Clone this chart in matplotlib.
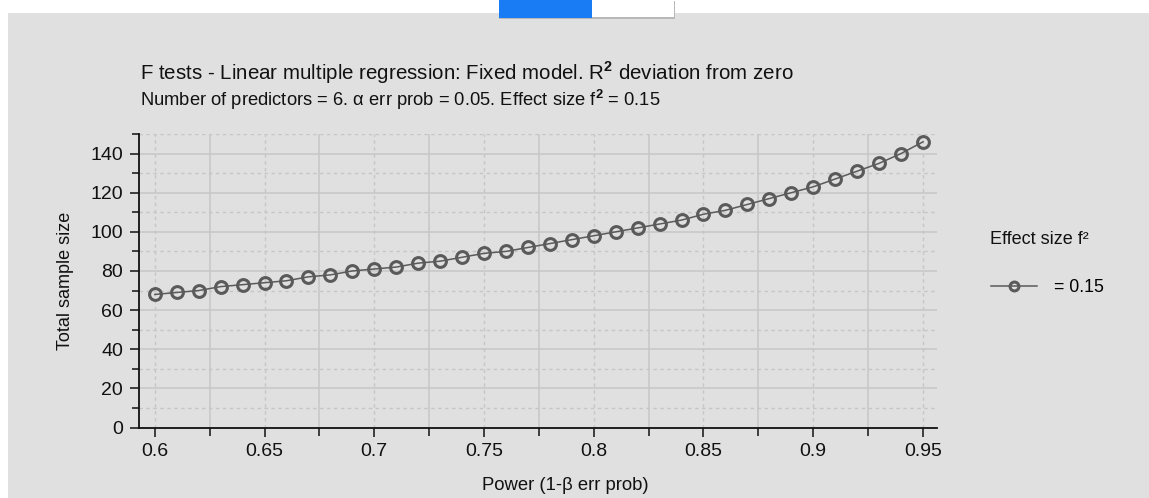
import matplotlib
matplotlib.use("Agg")
import matplotlib.pyplot as plt
from matplotlib.patches import Rectangle
from matplotlib.ticker import MultipleLocator

power = [0.60, 0.61, 0.62, 0.63, 0.64, 0.65, 0.66, 0.67, 0.68, 0.69,
         0.70, 0.71, 0.72, 0.73, 0.74, 0.75, 0.76, 0.77, 0.78, 0.79,
         0.80, 0.81, 0.82, 0.83, 0.84, 0.85, 0.86, 0.87, 0.88, 0.89,
         0.90, 0.91, 0.92, 0.93, 0.94, 0.95]
sample_size = [68, 69, 70, 72, 73, 74, 75, 77, 78, 80,
               81, 82, 84, 85, 87, 89, 90, 92, 94, 96,
               98, 100, 102, 104, 106, 109, 111, 114, 117, 120,
               123, 127, 131, 135, 140, 146]
series_label = "= 0.15"
legend_title = "Effect size f²"
title = "F tests - Linear multiple regression: Fixed model. R$^{\\mathbf{2}}$ deviation from zero"
subtitle = "Number of predictors = 6. α err prob = 0.05. Effect size f$^{\\mathbf{2}}$ = 0.15"

W, H = 1149, 498
BG = "#e0e0e0"
plt.rcParams['font.family'] = ['Liberation Sans', 'DejaVu Sans']
plt.rcParams['mathtext.fontset'] = 'custom'
plt.rcParams['mathtext.rm'] = 'Liberation Sans'
plt.rcParams['mathtext.bf'] = 'Liberation Sans:bold'

fig = plt.figure(figsize=(W / 100, H / 100), dpi=100, facecolor="white")


def fbox(x, y, w, h, **kw):
    # rectangle in pixel coords measured from top-left
    return Rectangle((x / W, 1 - (y + h) / H), w / W, h / H,
                     transform=fig.transFigure, **kw)


fig.add_artist(fbox(8, 13, W - 8, H - 13, facecolor=BG, edgecolor="none", zorder=0))
# window tab at the top
fig.add_artist(fbox(499, 1, 176, 18, facecolor="#b8b8b8", edgecolor="none", zorder=1))
fig.add_artist(fbox(499, 0, 93, 18, facecolor="#1a7cf5", edgecolor="none", zorder=2))
fig.add_artist(fbox(592, 0, 82, 17, facecolor="white", edgecolor="none", zorder=2))

ax = fig.add_axes([139 / W, (H - 427.5) / H, (937 - 139) / W, (427.5 - 134) / H])
ax.set_facecolor(BG)

ax.plot(power, sample_size, color="#5a5a5a", lw=1.1, marker="o", ms=8.5,
        mfc="none", mec="#5a5a5a", mew=2.2, zorder=3, label=series_label)

ax.set_xlim(0.5928, 0.9564)
ax.set_ylim(0, 150)
ax.xaxis.set_minor_locator(MultipleLocator(0.025))
ax.yaxis.set_major_locator(MultipleLocator(20))
ax.yaxis.set_minor_locator(MultipleLocator(10))
ax.set_xticks([0.6, 0.65, 0.7, 0.75, 0.8, 0.85, 0.9, 0.95])
ax.set_xticklabels(["0.6", "0.65", "0.7", "0.75", "0.8", "0.85", "0.9", "0.95"])

ax.grid(False)
ax.yaxis.grid(True, which="major", color="#c6c6c6", lw=1.1, ls="-")
ax.yaxis.grid(True, which="minor", color="#c6c6c6", lw=1.0, ls=(0, (2.5, 2.5)))
ax.xaxis.grid(True, which="minor", color="#c6c6c6", lw=1.1, ls="-")
ax.xaxis.grid(True, which="major", color="#c6c6c6", lw=1.0, ls=(0, (2.5, 2.5)))
ax.set_axisbelow(True)

for s in ["top", "right"]:
    ax.spines[s].set_visible(False)
for s in ["left", "bottom"]:
    ax.spines[s].set_linewidth(1.3)
    ax.spines[s].set_color("#111111")

ax.tick_params(which="major", direction="out", length=6.5, width=1.1,
               labelsize=14, colors="#111111", pad=5)
ax.tick_params(which="minor", direction="out", length=5, width=1.1, colors="#111111")
ax.tick_params(axis="x", which="minor", length=6)

ax.set_ylabel("Total sample size", fontsize=13, color="#111111", labelpad=12)
fig.text(565 / W, 1 - 485 / H, "Power (1-β err prob)", fontsize=13.3,
         ha="center", va="center", color="#111111")

fig.text(140 / W, 1 - 73 / H, title, fontsize=14.8, va="center", ha="left", color="#111111")
fig.text(140 / W, 1 - 100 / H, subtitle, fontsize=13.2, va="center", ha="left", color="#111111")

fig.text(990 / W, 1 - 240 / H, legend_title, fontsize=13, va="center", ha="left", color="#111111")
h, l = ax.get_legend_handles_labels()
fig.legend(h, l, loc="center left", bbox_to_anchor=(982 / W, 1 - 288 / H),
           frameon=False, fontsize=12.7, handlelength=2.6, handletextpad=1.0,
           markerscale=0.75, borderpad=0)

fig.savefig("out.png", dpi=100, facecolor=fig.get_facecolor())
